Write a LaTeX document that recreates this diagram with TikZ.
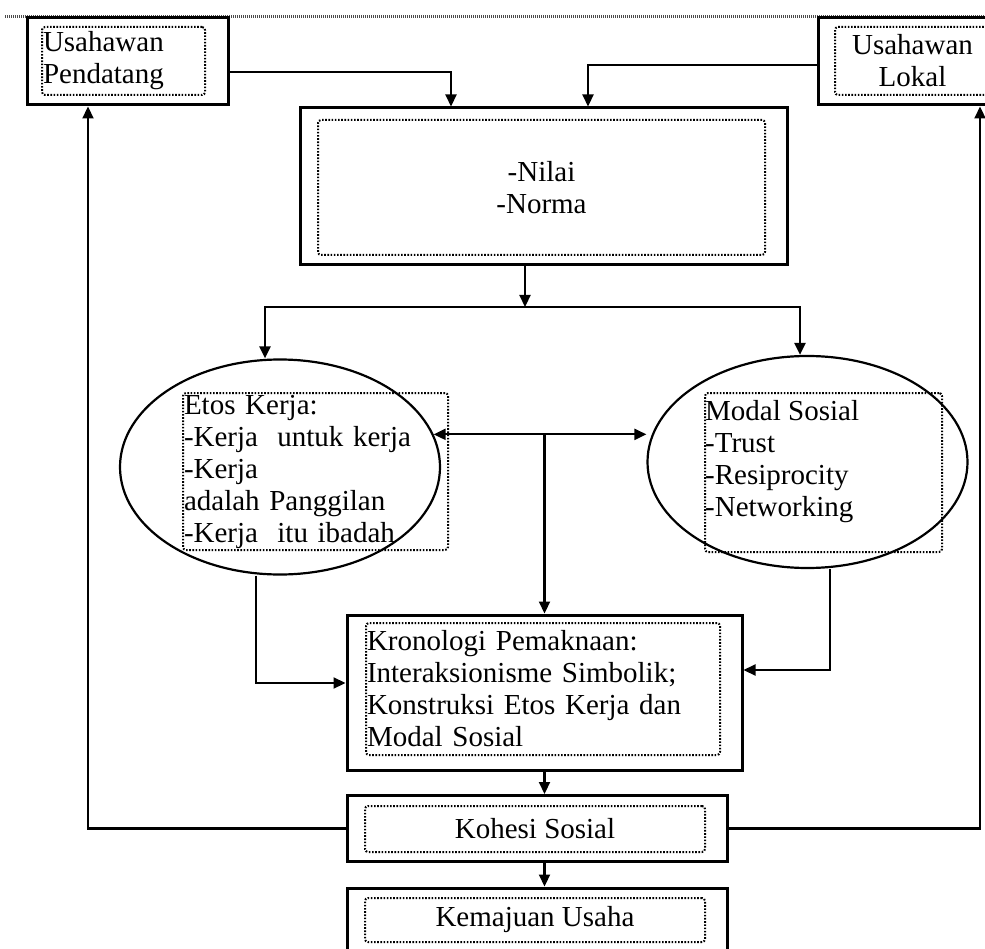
\documentclass[tikz,border=0pt]{standalone}
\usepackage{fontspec}
\setmainfont{Liberation Serif}
\usetikzlibrary{positioning,shapes.geometric,arrows.meta}

\begin{document}
\begin{tikzpicture}[x=1pt,y=-1pt,
    every node/.style={font=\fontsize{29}{32}\selectfont,inner sep=1pt},
    box/.style={draw,line width=3pt},
    dotbox/.style={draw,line width=2pt,dash pattern=on 1.6pt off 1.6pt,rounded corners=3pt},
    oval/.style={draw,ellipse,line width=2.2pt,minimum width=320pt},
    arr/.style={line width=2.2pt,-{Triangle[length=12pt,width=11pt]}},
    both/.style={line width=2.2pt,{Triangle[length=12pt,width=11pt]}-{Triangle[length=12pt,width=11pt]}}]
    \useasboundingbox (0,0) rectangle (985,949);
    \clip (0,0) rectangle (985,949);
    \draw[gray!60!black,line width=3pt,dash pattern=on 1pt off 1pt] (5,17) -- (985,17);

    \node[box,minimum width=201pt,minimum height=87pt] (pend) at (127.5,61.5) {};
    \node[dotbox,text width=161pt,minimum height=68pt,align=left] (pendIn) at (123.5,61) {Usahawan\\Pendatang};
    \node[box,minimum width=177pt,minimum height=87pt] (lok) at (906.5,61.5) {};
    \node[dotbox,text width=153pt,minimum height=68pt,align=center] (lokIn) at (912.5,61) {Usahawan\\Lokal};

    \node[box,minimum width=487pt,minimum height=157pt] (nilai) at (543.5,186.5) {};
    \node[dotbox,text width=445pt,minimum height=135pt,align=center] (nilaiIn) at (541.5,187.5) {-Nilai\\-Norma};

    \node[oval,minimum height=215pt] (etos) at (280,467) {};
    \node[dotbox,text width=263pt,minimum height=157pt,align=left] (etosIn) at (315.5,471.5) {Etos Kerja:\\-Kerja~ untuk kerja\\-Kerja\\adalah Panggilan\\-Kerja~ itu ibadah};
    \node[oval,minimum height=212pt] (modal) at (807.5,462) {};
    \node[dotbox,minimum width=237pt,minimum height=159pt] (modalIn) at (823.5,472.5) {};
    \node[anchor=north west,align=left] (modalTxt) at ([yshift=-7pt]modalIn.north west) {Modal Sosial\\-Trust\\-Resiprocity\\-Networking};

    \node[box,minimum width=395pt,minimum height=155pt] (krono) at (544.5,692.5) {};
    \node[dotbox,text width=352pt,minimum height=132pt,align=left] (kronoIn) at (543,689) {Kronologi Pemaknaan:\\Interaksionisme Simbolik;\\Konstruksi Etos Kerja dan\\Modal Sosial};
    \node[box,minimum width=380pt,minimum height=66pt] (kohesi) at (537,828.5) {};
    \node[dotbox,minimum width=340pt,minimum height=46pt] (kohesiIn) at (535,829) {Kohesi Sosial};
    \node[box,minimum width=380pt,minimum height=72pt] (maju) at (537,924) {};
    \node[dotbox,minimum width=340pt,minimum height=44pt] (majuIn) at (535,920) {Kemajuan Usaha};

    \coordinate (split) at (525,307);
    \draw[arr] ([yshift=-10.5pt]pend.east) -| ([xshift=-92.5pt]nilai.north);
    \draw[arr] ([yshift=-3.5pt]lok.west) -| ([xshift=44.5pt]nilai.north);
    \draw[arr] ([xshift=-18.5pt]nilai.south) -- (split);
    \draw[arr] (split) -| ([xshift=-15pt]etos.north);
    \draw[arr] (split) -| ([xshift=-7.5pt]modal.north);
    \draw[both] (etos.12) -- (etos.12 -| modal.west);
    \draw[arr] (etos.12 -| krono.north) -- (krono.north);
    \draw[arr] ([xshift=-24pt]etos.south) |- ([yshift=9.5pt]krono.west);
    \draw[arr] ([xshift=22.5pt]modal.south) |- ([yshift=22.5pt]krono.east);
    \draw[arr] (krono.south) -- (krono.south |- kohesi.north);
    \draw[arr] (krono.south |- kohesi.south) -- (krono.south |- maju.north);
    \draw[arr] (kohesi.west) -| ([xshift=-39.5pt]pend.south);
    \draw[arr] (kohesi.east) -| ([xshift=73.5pt]lok.south);
\end{tikzpicture}
\end{document}
